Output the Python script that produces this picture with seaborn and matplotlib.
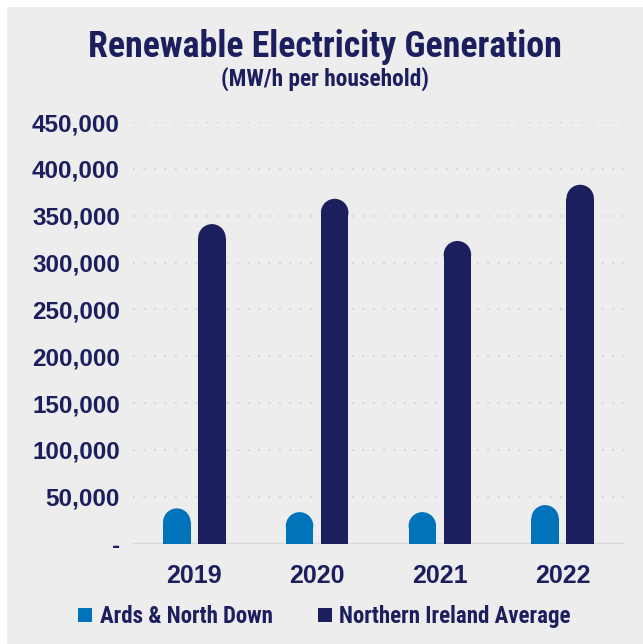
import matplotlib
matplotlib.use("Agg")
import matplotlib.pyplot as plt
from matplotlib import font_manager
from matplotlib.patches import Ellipse, Rectangle
from matplotlib.ticker import FuncFormatter, MultipleLocator
import seaborn as sns
import pandas as pd

# Renewable electricity generation (MW/h per household)
years = ["2019", "2020", "2021", "2022"]
series_names = ["Ards & North Down", "Northern Ireland Average"]
ards_values = [37500, 33500, 33500, 41000]
ni_values = [341000, 368000, 323000, 383000]

NAVY = "#1C1F5E"
BLUE = "#0173BA"
PANEL = "#EDEDED"
GRID = "#D6D6D6"

df = pd.DataFrame({
    "Year": years * 2,
    "Series": [series_names[0]] * len(years) + [series_names[1]] * len(years),
    "Value": ards_values + ni_values,
})

sns.set_style("white")
available = {f.name for f in font_manager.fontManager.ttflist}
# condensed face for the headings and legend, sized per face
NARROW, SIZES = "Liberation Sans", (21.6, 14.5, 14.0)
for name, sizes in (("Roboto Condensed", (25.8, 16.8, 16.5)),
                    ("Liberation Sans Narrow", (24.5, 15, 16)),
                    ("Open Sans Condensed", (23, 14, 15))):
    if name in available:
        NARROW, SIZES = name, sizes
        break
TITLE_SIZE, SUB_SIZE, LEG_SIZE = SIZES
plt.rcParams["font.family"] = ["Liberation Sans", "DejaVu Sans"]

W, H = 643, 644
fig = plt.figure(figsize=(W / 100, H / 100), dpi=100, facecolor="white")
# grey panel behind everything
fig.patches.append(Rectangle((7 / W, 0), 1 - 7 / W, 1 - 7 / H, transform=fig.transFigure,
                             facecolor=PANEL, edgecolor="none", zorder=-10))

left, right = 133 / W, 624 / W
bottom, top = 1 - 543.5 / H, 1 - 122 / H
ax = fig.add_axes([left, bottom, right - left, top - bottom])
ax.set_facecolor("none")

sns.barplot(data=df, x="Year", y="Value", hue="Series", order=years, hue_order=series_names,
            palette=[BLUE, NAVY], width=0.572, gap=0.217, linewidth=0, saturation=1,
            ax=ax, legend=True, zorder=3)

ax.set_ylim(0, 450000)
ax.set_xlim(-0.5, 3.5)
ax.yaxis.set_major_locator(MultipleLocator(50000))
ax.yaxis.set_major_formatter(FuncFormatter(lambda v, p: "-" if v == 0 else f"{int(v):,}"))
ax.set_xlabel("")
ax.set_ylabel("")
for s in ax.spines.values():
    s.set_visible(False)

# dotted gridlines and solid baseline
ax.grid(False)
for v in range(50000, 450001, 50000):
    ax.axhline(v, color=GRID, lw=1.5, linestyle=(0, (1, 4)), dash_capstyle="butt", zorder=1)
ax.axhline(0, color="#D9D9D9", lw=1.6, zorder=2)

ax.tick_params(axis="y", length=0, pad=9.4, labelsize=17.5, labelcolor=NAVY)
ax.tick_params(axis="x", length=0, pad=15, labelsize=18, labelcolor=NAVY)
for lab in ax.get_yticklabels() + ax.get_xticklabels():
    lab.set_fontweight("bold")

# rounded caps on every bar
px_per_y = (top - bottom) * H / 450000
px_per_x = (right - left) * W / 4.0
handles, labels = ax.get_legend_handles_labels()
ax.get_legend().remove()
for bar in list(ax.patches):
    if not isinstance(bar, Rectangle) or bar.get_height() <= 0:
        continue
    x0, w, h = bar.get_x(), bar.get_width(), bar.get_height()
    r_px = w * px_per_x / 2
    r_y = r_px / px_per_y
    bar.set_height(h - r_y)
    ax.add_patch(Ellipse((x0 + w / 2, h - r_y), w, 2 * r_y, facecolor=bar.get_facecolor(),
                         edgecolor="none", zorder=3))

# titles
fig.text(324.8 / W, 1 - 56.7 / H, "Renewable Electricity Generation", ha="center", va="baseline",
         fontsize=TITLE_SIZE, fontweight="bold", color=NAVY, family=[NARROW, "DejaVu Sans"])
fig.text(324.8 / W, 1 - 85.5 / H, "(MW/h per household)", ha="center", va="baseline",
         fontsize=SUB_SIZE, fontweight="bold", color=NAVY, family=[NARROW, "DejaVu Sans"])

fig.legend(handles, labels, loc="center", bbox_to_anchor=(324.5 / W, 1 - 616.5 / H), ncol=2,
           frameon=False, handlelength=0.62, handleheight=0.62, handletextpad=0.33,
           columnspacing=1.95, prop={"family": [NARROW, "DejaVu Sans"], "weight": "bold", "size": LEG_SIZE},
           labelcolor=NAVY)

fig.savefig("out.png", dpi=100, facecolor="white")
